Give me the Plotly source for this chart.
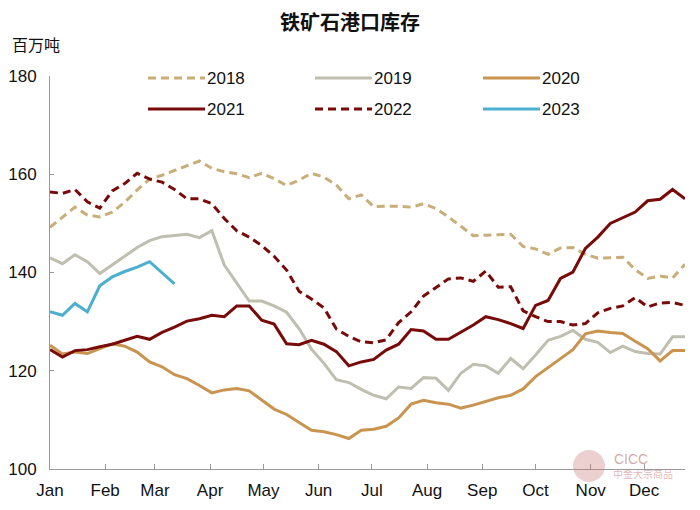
import pandas as pd
import plotly.graph_objects as go

# weekly port inventory of iron ore, million tonnes (52 weeks)
weeks = pd.date_range("2021-01-01", periods=52, freq="7D")

y2018 = [149.2, 151.3, 153.3, 151.7, 151.3, 152.3, 154.3, 156.8, 159.0, 159.8,
         160.8, 161.8, 162.7, 161.2, 160.5, 160.1, 159.3, 160.2, 159.1, 157.7,
         158.8, 160.2, 159.4, 157.8, 155.0, 155.8, 153.4, 153.5, 153.5, 153.3,
         154.0, 153.0, 151.3, 149.4, 147.5, 147.6, 147.7, 147.8, 145.3, 144.8,
         143.7, 145.0, 145.1, 143.7, 142.9, 143.0, 143.1, 140.6, 138.8, 139.3,
         138.9, 141.7]
y2019 = [143.0, 141.8, 143.6, 142.2, 139.8, 141.5, 143.3, 145.1, 146.5, 147.3,
         147.6, 147.8, 147.1, 148.5, 141.5, 137.9, 134.2, 134.2, 133.2, 131.9,
         128.6, 124.4, 121.5, 118.2, 117.6, 116.2, 115.0, 114.3, 116.7, 116.4,
         118.6, 118.5, 116.0, 119.5, 121.3, 121.0, 119.5, 122.5, 120.4, 123.2,
         126.2, 127.0, 128.2, 126.4, 125.8, 123.7, 125.0, 123.9, 123.5, 123.4,
         126.9, 126.9]
y2020 = [125.2, 123.4, 123.8, 123.5, 124.5, 125.5, 125.0, 123.8, 121.8, 120.8,
         119.2, 118.4, 117.0, 115.5, 116.1, 116.4, 115.9, 114.0, 112.2, 111.1,
         109.5, 107.9, 107.6, 107.0, 106.2, 107.9, 108.1, 108.7, 110.4, 113.2,
         114.0, 113.5, 113.2, 112.4, 113.0, 113.8, 114.5, 115.0, 116.3, 118.8,
         120.6, 122.4, 124.3, 127.5, 128.1, 127.8, 127.6, 126.0, 124.5, 122.0,
         124.1, 124.1]
y2021 = [124.3, 122.8, 124.1, 124.3, 124.9, 125.4, 126.2, 127.0, 126.4, 127.8,
         128.9, 130.1, 130.6, 131.3, 131.0, 133.2, 133.2, 130.3, 129.5, 125.5,
         125.3, 126.2, 125.4, 123.9, 121.0, 121.8, 122.3, 124.2, 125.4, 128.4,
         128.1, 126.4, 126.4, 127.9, 129.3, 131.0, 130.4, 129.6, 128.6, 133.3,
         134.3, 138.8, 140.1, 144.9, 147.2, 150.0, 151.1, 152.3, 154.6, 154.9,
         156.9, 155.0]
y2022 = [156.4, 156.1, 156.9, 154.4, 153.1, 156.6, 158.1, 160.2, 159.0, 158.4,
         156.9, 155.0, 155.0, 154.0, 151.0, 148.5, 147.2, 145.5, 143.3, 140.5,
         136.2, 134.6, 132.8, 128.5, 127.0, 125.9, 125.7, 126.3, 129.8, 132.0,
         135.2, 137.0, 138.7, 138.9, 138.2, 140.3, 137.0, 137.1, 132.2, 131.0,
         130.0, 130.0, 129.3, 129.6, 131.8, 132.7, 133.2, 134.9, 133.0, 133.8,
         133.9, 133.3]
y2023 = [132.0, 131.3, 133.7, 132.0, 137.3, 139.1, 140.2, 141.1, 142.2, 140.0,
         137.7]

series = [
    ("2018", y2018, "#C8AE78", "8px,5px"),
    ("2019", y2019, "#BFBFB0", "solid"),
    ("2020", y2020, "#C9944F", "solid"),
    ("2021", y2021, "#780A0A", "solid"),
    ("2022", y2022, "#780A0A", "8px,5px"),
    ("2023", y2023, "#4BAFCF", "solid"),
]

fig = go.Figure()
for name, vals, color, dash in series:
    fig.add_trace(go.Scatter(
        x=weeks[:len(vals)], y=vals, name=name, mode="lines",
        line=dict(color=color, width=3, dash=dash),
        showlegend=False,
    ))

# the page body adds an 8px margin, so the layout is pulled back by that much
OFF = 8
L, W = 50, 635
B, H = 469, 393
def px(x):
    return (x - L) / W
def py(y):
    return (B - y) / H

# hand-drawn legend, 3 per row like the original
legend_pos = [(148, 78), (315, 78), (483, 78), (148, 109), (315, 109), (483, 109)]
for (name, vals, color, dash), (lx, ly) in zip(series, legend_pos):
    fig.add_shape(type="line", xref="paper", yref="paper",
                  x0=px(lx), x1=px(lx + 57), y0=py(ly), y1=py(ly),
                  line=dict(color=color, width=3, dash=dash))
    fig.add_annotation(xref="paper", yref="paper", x=px(lx + 57), y=py(ly),
                       text=name, showarrow=False, xanchor="left", yanchor="middle",
                       font=dict(size=17, color="#111"))

fig.add_annotation(xref="paper", yref="paper", x=px(10), y=py(44), text="百万吨",
                   showarrow=False, xanchor="left", yanchor="middle",
                   font=dict(size=16, color="#111", family="Noto Sans CJK SC"))

# faint CICC watermark
fig.add_shape(type="circle", xref="paper", yref="paper",
              x0=px(573), x1=px(605), y0=py(482), y1=py(450),
              fillcolor="rgba(200,120,120,0.35)", line=dict(width=0))
fig.add_annotation(xref="paper", yref="paper", x=px(612), y=py(459), text="CICC",
                   showarrow=False, xanchor="left", yanchor="middle",
                   font=dict(size=14, color="rgba(180,110,110,0.6)"))
fig.add_annotation(xref="paper", yref="paper", x=px(611), y=py(473), text="中金大宗商品",
                   showarrow=False, xanchor="left", yanchor="middle",
                   font=dict(size=10, color="rgba(200,120,120,0.55)", family="Noto Sans CJK SC"))

fig.update_layout(
    width=700, height=510,
    margin=dict(l=L - OFF, r=700 - (L + W) + OFF, t=B - H - OFF, b=510 - B + OFF),
    paper_bgcolor="white", plot_bgcolor="white",
    font=dict(family="Liberation Sans, Arial, sans-serif", size=17, color="#111"),
    title=dict(text="铁矿石港口库存", x=(350 - OFF) / 700, xanchor="center",
               y=1 - (23 - OFF) / 510, yanchor="middle",
               xref="container", yref="container", automargin=False,
               font=dict(family="Noto Sans CJK SC", size=20, weight="bold", color="#111")),
    xaxis=dict(
        range=["2021-01-01", "2021-12-24"], tick0="2021-01-01", dtick="M1",
        tickformat="%b", showgrid=False, zeroline=False, automargin=False,
        showline=True, linecolor="#9A9A9A", linewidth=1,
        ticks="inside", ticklen=5, tickcolor="#9A9A9A", ticklabelstandoff=6,
    ),
    yaxis=dict(
        range=[100, 180], dtick=20, showgrid=False, zeroline=False, automargin=False,
        showline=True, linecolor="#9A9A9A", linewidth=1,
        ticks="inside", ticklen=4, tickcolor="#9A9A9A", ticklabelstandoff=9,
    ),
    hovermode=False,
)

fig.write_html("out.html")
